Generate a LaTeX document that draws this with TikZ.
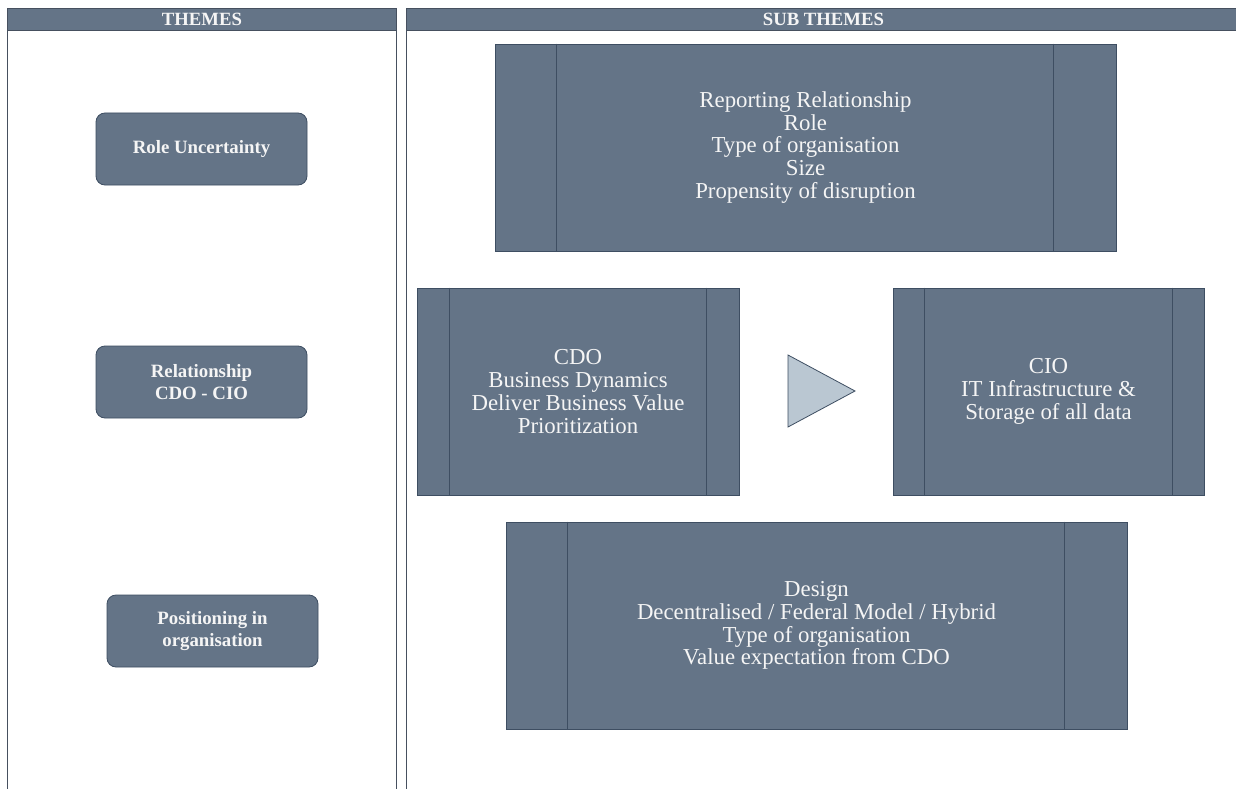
\documentclass[tikz,border=0pt]{standalone}
\usepackage{fontspec}
\setmainfont{Liberation Serif}
\definecolor{boxfill}{RGB}{100,116,135}
\definecolor{boxline}{RGB}{62,78,98}
\definecolor{trifill}{RGB}{186,199,210}
\definecolor{paneline}{RGB}{70,80,95}
\definecolor{txt}{RGB}{245,245,245}
\begin{document}
\begin{tikzpicture}[x=1pt,y=-1pt,
  header/.style={draw=paneline,fill=boxfill,line width=0.9pt,text=txt,font=\fontsize{18.7}{20}\selectfont\bfseries},
  theme/.style={draw=boxline,fill=boxfill,rounded corners=9pt,line width=0.8pt,text=txt,align=center,
     minimum width=211pt,minimum height=72pt,inner sep=0pt,font=\fontsize{18.8}{22}\selectfont\bfseries},
  procbox/.style={draw=boxline,fill=boxfill,line width=0.8pt,text=txt,align=center,inner sep=0pt,
     minimum height=207pt,font=\fontsize{22.8}{22.8}\selectfont},
  inner/.style={draw=boxline,line width=0.8pt}]
\useasboundingbox (0,0) rectangle (1236,789);
\fill[white] (0,0) rectangle (1236,789);
% panels
\draw[paneline,line width=0.9pt] (7,30) -- (7,789) (396,30) -- (396,789) (406,30) -- (406,789);
\node[header,minimum width=389pt,minimum height=22pt,inner sep=0pt,anchor=north west] (hthemes) at (7,8) {THEMES};
\node[header,minimum width=834pt,minimum height=22pt,inner sep=0pt,anchor=north west] (hsub) at (406,8) {SUB THEMES};
% themes
\node[theme] (role) at (201.5,149) {Role Uncertainty};
\node[theme] (rel) at (201.5,382) {Relationship\\CDO - CIO};
\node[theme] (pos) at (212.5,631) {Positioning in\\organisation};
% sub theme boxes
\node[procbox,minimum width=621pt] (top) at (805.5,147.5) {Reporting Relationship\\Role\\Type of organisation\\Size\\Propensity of disruption};
\draw[inner] ([xshift=62pt]top.north west) -- ([xshift=62pt]top.south west)
             ([xshift=-63pt]top.north east) -- ([xshift=-63pt]top.south east);
\node[procbox,minimum width=322pt] (cdo) at (578,391.5) {CDO\\Business Dynamics\\Deliver Business Value\\Prioritization};
\draw[inner] ([xshift=33pt]cdo.north west) -- ([xshift=33pt]cdo.south west)
             ([xshift=-33pt]cdo.north east) -- ([xshift=-33pt]cdo.south east);
\node[procbox,minimum width=311pt] (cio) at (1048.5,391.5) {CIO\\IT Infrastructure \&\\Storage of all data};
\draw[inner] ([xshift=32pt]cio.north west) -- ([xshift=32pt]cio.south west)
             ([xshift=-32pt]cio.north east) -- ([xshift=-32pt]cio.south east);
\node[procbox,minimum width=621pt] (bot) at (816.5,625.5) {Design\\Decentralised / Federal Model / Hybrid\\Type of organisation\\Value expectation from CDO};
\draw[inner] ([xshift=62pt]bot.north west) -- ([xshift=62pt]bot.south west)
             ([xshift=-63pt]bot.north east) -- ([xshift=-63pt]bot.south east);
% triangle
\coordinate (ta) at (788,355);
\coordinate (tb) at (855,391);
\coordinate (tc) at (788,427);
\draw[boxline,fill=trifill,line width=0.8pt] (ta) -- (tb) -- (tc) -- cycle;
\end{tikzpicture}
\end{document}
